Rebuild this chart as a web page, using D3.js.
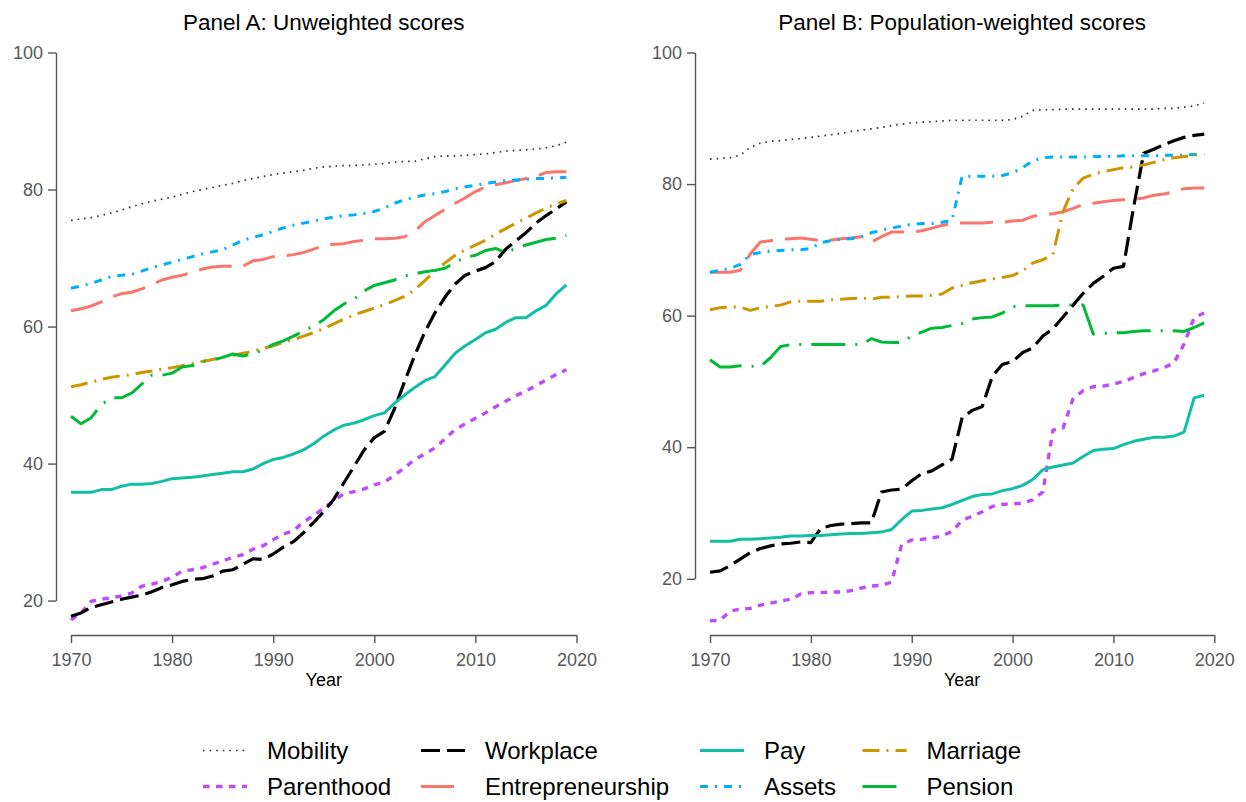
<!DOCTYPE html>
<html>
<head>
<meta charset="utf-8">
<script src="https://cdn.jsdelivr.net/npm/d3@7"></script>
<style>
  body { margin: 0; background: #fff; }
  svg { font-family: "Liberation Sans", Arial, Helvetica, sans-serif; }
</style>
</head>
<body>
<div id="chart"></div>
<script>

// x values, one per year
var years = [1970, 1971, 1972, 1973, 1974, 1975, 1976, 1977, 1978, 1979,
             1980, 1981, 1982, 1983, 1984, 1985, 1986, 1987, 1988, 1989,
             1990, 1991, 1992, 1993, 1994, 1995, 1996, 1997, 1998, 1999,
             2000, 2001, 2002, 2003, 2004, 2005, 2006, 2007, 2008, 2009,
             2010, 2011, 2012, 2013, 2014, 2015, 2016, 2017, 2018, 2019];

// Panel A - unweighted scores
var mobilityA = [75.5, 75.7, 75.9, 76.2, 76.6, 77.0, 77.5, 77.9, 78.3, 78.6,
                 78.9, 79.3, 79.7, 80.0, 80.3, 80.6, 80.9, 81.3, 81.6, 81.9,
                 82.2, 82.4, 82.6, 82.8, 83.1, 83.3, 83.4, 83.5, 83.5, 83.6,
                 83.7, 83.8, 84.0, 84.1, 84.1, 84.5, 84.8, 84.9, 84.9, 85.0,
                 85.1, 85.2, 85.4, 85.6, 85.7, 85.8, 85.9, 86.1, 86.4, 86.9];
var parenthoodA = [17.2, 18.2, 19.9, 20.2, 20.4, 20.7, 21.1, 22.1, 22.4, 22.8,
                   23.4, 24.3, 24.5, 24.8, 25.3, 25.8, 26.3, 26.7, 27.5, 28.0,
                   28.9, 29.7, 30.2, 31.5, 32.4, 33.5, 34.6, 35.6, 35.9, 36.3,
                   36.9, 37.3, 38.3, 39.4, 40.6, 41.4, 42.3, 43.6, 45.0, 45.8,
                   46.6, 47.4, 48.3, 49.1, 49.9, 50.6, 51.4, 52.2, 53.0, 53.7];
var workplaceA = [17.7, 18.2, 19.0, 19.4, 19.8, 20.2, 20.5, 20.8, 21.3, 21.9,
                  22.3, 22.8, 23.1, 23.2, 23.6, 24.3, 24.5, 25.3, 26.1, 26.0,
                  26.8, 27.8, 28.6, 29.9, 31.4, 33.0, 34.8, 37.2, 39.6, 42.0,
                  43.8, 44.7, 48.0, 52.0, 55.8, 59.2, 62.0, 64.3, 66.2, 67.5,
                  68.1, 68.6, 69.5, 71.3, 72.5, 73.7, 75.1, 76.2, 77.2, 78.2];
var entrepreneurshipA = [62.3, 62.6, 63.0, 63.6, 64.3, 64.8, 65.0, 65.5, 66.1, 66.8,
                         67.2, 67.5, 67.9, 68.4, 68.7, 68.8, 68.8, 68.8, 69.6, 69.8,
                         70.2, 70.3, 70.5, 70.8, 71.3, 71.8, 72.0, 72.1, 72.4, 72.6,
                         72.8, 72.8, 72.9, 73.1, 73.9, 75.3, 76.2, 77.1, 78.0, 78.8,
                         79.7, 80.4, 80.7, 81.0, 81.3, 81.6, 81.9, 82.5, 82.6, 82.6];
var payA = [35.8, 35.8, 35.8, 36.2, 36.2, 36.7, 37.0, 37.0, 37.1, 37.4,
            37.8, 37.9, 38.0, 38.2, 38.4, 38.6, 38.8, 38.8, 39.2, 40.0,
            40.6, 40.9, 41.4, 42.0, 42.9, 44.0, 44.9, 45.6, 45.9, 46.4,
            47.0, 47.4, 48.8, 50.0, 51.1, 52.1, 52.7, 54.4, 56.1, 57.2,
            58.1, 59.1, 59.6, 60.6, 61.3, 61.3, 62.3, 63.1, 64.8, 66.1];
var assetsA = [65.6, 65.9, 66.3, 66.8, 67.3, 67.5, 67.6, 68.1, 68.6, 69.0,
               69.4, 69.8, 70.2, 70.6, 70.9, 71.2, 71.9, 72.6, 73.0, 73.4,
               73.9, 74.4, 74.8, 75.1, 75.4, 75.7, 76.0, 76.2, 76.3, 76.5,
               76.8, 77.3, 78.0, 78.5, 78.9, 79.2, 79.4, 79.7, 80.1, 80.4,
               80.6, 80.9, 81.1, 81.3, 81.4, 81.5, 81.6, 81.6, 81.7, 81.8];
var marriageA = [51.2, 51.5, 51.9, 52.3, 52.6, 52.8, 53.0, 53.3, 53.5, 53.8,
                 54.0, 54.3, 54.6, 54.9, 55.2, 55.5, 55.8, 56.1, 56.4, 56.8,
                 57.2, 57.7, 58.1, 58.6, 59.1, 59.7, 60.4, 61.1, 61.7, 62.2,
                 62.7, 63.2, 63.8, 64.4, 65.4, 66.7, 68.1, 69.3, 70.4, 71.2,
                 71.9, 72.6, 73.5, 74.3, 75.1, 75.8, 76.6, 77.3, 77.9, 78.4];
var pensionA = [46.9, 45.8, 46.7, 48.6, 49.6, 49.6, 50.3, 51.6, 52.9, 52.9,
                53.2, 54.1, 54.3, 54.9, 55.1, 55.5, 56.0, 55.7, 56.0, 56.6,
                57.4, 57.9, 58.6, 59.3, 60.1, 61.0, 62.3, 63.3, 64.0, 65.2,
                66.0, 66.4, 66.8, 67.4, 67.7, 68.0, 68.2, 68.5, 69.4, 70.1,
                70.4, 71.1, 71.4, 70.8, 71.4, 71.9, 72.3, 72.7, 72.9, 73.3];

// Panel B - population-weighted scores
var mobilityB = [83.8, 83.9, 84.0, 84.4, 85.6, 86.2, 86.5, 86.6, 86.8, 86.9,
                 87.1, 87.3, 87.5, 87.7, 88.0, 88.2, 88.4, 88.6, 88.9, 89.1,
                 89.3, 89.4, 89.5, 89.6, 89.7, 89.7, 89.7, 89.7, 89.7, 89.7,
                 89.8, 90.3, 91.2, 91.3, 91.3, 91.4, 91.4, 91.4, 91.4, 91.4,
                 91.4, 91.4, 91.4, 91.4, 91.4, 91.5, 91.5, 91.7, 91.9, 92.3];
var parenthoodB = [13.6, 13.7, 15.1, 15.4, 15.5, 16.0, 16.3, 16.6, 16.9, 17.7,
                   17.9, 17.9, 18.0, 18.0, 18.2, 18.6, 18.9, 19.0, 19.5, 25.2,
                   25.9, 26.0, 26.2, 26.5, 27.2, 28.9, 29.5, 30.2, 31.0, 31.3,
                   31.4, 31.5, 32.0, 33.2, 42.6, 42.9, 47.4, 48.6, 49.2, 49.3,
                   49.6, 50.0, 50.6, 51.2, 51.6, 52.1, 52.8, 55.7, 59.7, 60.4];
var workplaceB = [21.0, 21.2, 22.0, 23.0, 24.0, 24.6, 25.0, 25.3, 25.4, 25.6,
                  25.5, 27.7, 28.1, 28.3, 28.4, 28.5, 28.5, 33.2, 33.5, 33.6,
                  34.9, 36.0, 36.4, 37.3, 38.2, 44.5, 45.6, 46.2, 50.8, 52.6,
                  53.0, 54.4, 55.1, 56.9, 58.0, 59.8, 61.6, 63.4, 64.9, 66.0,
                  67.2, 67.5, 76.5, 84.7, 85.3, 86.0, 86.6, 87.1, 87.4, 87.6];
var entrepreneurshipB = [66.6, 66.6, 66.6, 66.9, 69.4, 71.2, 71.4, 71.6, 71.7, 71.8,
                         71.6, 71.4, 71.5, 71.7, 71.8, 72.0, 71.2, 72.0, 72.7, 72.7,
                         72.7, 72.9, 73.3, 73.7, 74.0, 74.1, 74.1, 74.1, 74.2, 74.2,
                         74.4, 74.5, 75.1, 75.3, 75.5, 75.8, 76.3, 76.9, 77.1, 77.3,
                         77.5, 77.6, 77.7, 77.9, 78.3, 78.5, 78.8, 79.3, 79.4, 79.4];
var payB = [25.7, 25.7, 25.7, 26.0, 26.0, 26.1, 26.2, 26.3, 26.5, 26.5,
            26.6, 26.6, 26.7, 26.8, 26.9, 26.9, 27.0, 27.1, 27.5, 29.0,
            30.3, 30.4, 30.6, 30.8, 31.3, 31.9, 32.5, 32.8, 32.9, 33.4,
            33.7, 34.2, 35.1, 36.6, 37.0, 37.3, 37.6, 38.6, 39.5, 39.7,
            39.8, 40.4, 40.9, 41.2, 41.5, 41.5, 41.7, 42.3, 47.5, 47.9];
var assetsB = [66.6, 66.9, 67.2, 67.8, 69.3, 69.6, 69.8, 69.9, 70.0, 70.0,
               70.2, 71.1, 71.4, 71.6, 71.7, 72.0, 72.6, 73.0, 73.3, 73.6,
               73.9, 74.0, 74.0, 74.2, 74.5, 81.2, 81.2, 81.2, 81.2, 81.3,
               81.7, 82.5, 83.5, 84.0, 84.1, 84.1, 84.1, 84.1, 84.2, 84.2,
               84.2, 84.3, 84.3, 84.3, 84.3, 84.4, 84.4, 84.4, 84.5, 84.5];
var marriageB = [60.9, 61.2, 61.3, 61.3, 60.8, 61.2, 61.4, 61.6, 62.1, 62.2,
                 62.2, 62.2, 62.4, 62.5, 62.6, 62.7, 62.5, 62.8, 62.8, 62.9,
                 63.0, 63.0, 63.1, 63.3, 64.2, 64.6, 65.0, 65.3, 65.6, 65.8,
                 66.1, 66.8, 68.0, 68.5, 69.3, 75.8, 79.3, 80.9, 81.5, 81.9,
                 82.2, 82.5, 82.6, 82.9, 83.3, 83.7, 84.0, 84.2, 84.4, 84.5];
var pensionB = [53.3, 52.2, 52.2, 52.4, 52.3, 52.3, 53.6, 55.3, 55.6, 55.6,
                55.6, 55.6, 55.6, 55.6, 55.6, 55.6, 56.5, 56.0, 55.9, 55.9,
                56.9, 57.5, 58.1, 58.2, 58.5, 58.8, 59.5, 59.7, 59.8, 60.4,
                61.4, 61.5, 61.5, 61.5, 61.5, 61.6, 61.6, 61.6, 57.2, 57.3,
                57.4, 57.4, 57.6, 57.7, 57.7, 57.7, 57.7, 57.6, 58.2, 58.9];

// legend order (column by column, as in the legend)
var seriesNames = ['Mobility', 'Parenthood', 'Workplace', 'Entrepreneurship',
                   'Pay', 'Assets', 'Marriage', 'Pension'];
var xTicks = [1970, 1980, 1990, 2000, 2010, 2020];
var yTicks = [20, 40, 60, 80, 100];
var panelTitles = ['Panel A: Unweighted scores', 'Panel B: Population-weighted scores'];

var panelA = [mobilityA, parenthoodA, workplaceA, entrepreneurshipA, payA, assetsA, marriageA, pensionA];
var panelB = [mobilityB, parenthoodB, workplaceB, entrepreneurshipB, payB, assetsB, marriageB, pensionB];

// line look for each series
var lineStyle = {
  'Mobility':         { color: '#333333', width: 1.7, dash: '1.6,5' },
  'Parenthood':       { color: '#BE4BFB', width: 3.4, dash: '6.5,6.5' },
  'Workplace':        { color: '#000000', width: 3.2, dash: '19,7' },
  'Entrepreneurship': { color: '#F8766D', width: 3,   dash: '33,12' },
  'Pay':              { color: '#12BFA6', width: 3,   dash: null },
  'Assets':           { color: '#00B0F6', width: 3,   dash: '8,7,2,7' },
  'Marriage':         { color: '#CD9600', width: 3,   dash: '17,7,2,7' },
  'Pension':          { color: '#00BA38', width: 3,   dash: '34,10,2,10' }
};

var width = 1246,
    height = 802;

var svg = d3.select('#chart')
  .append('svg')
  .attr('width', width)
  .attr('height', height);

var drawPanel = (series, title, xRange, yRange, axisX, axisY) => {

  var x = d3.scaleLinear().domain([1970, 2020]).range(xRange),
      y = d3.scaleLinear().domain([20, 100]).range(yRange);

  var g = svg.append('g');

  // y axis
  var yAxis = g.append('g')
    .attr('transform', 'translate(' + axisX + ',0)')
    .call(d3.axisLeft(y).tickValues(yTicks).tickSize(8).tickSizeOuter(0).tickPadding(5));

  // x axis
  var xAxis = g.append('g')
    .attr('transform', 'translate(0,' + axisY + ')')
    .call(d3.axisBottom(x).tickValues(xTicks).tickFormat(d3.format('d'))
      .tickSize(8).tickSizeOuter(0).tickPadding(10.5));

  [yAxis, xAxis].forEach(function(a) {
    a.select('.domain').attr('stroke', '#555').attr('stroke-width', 1.4);
    a.selectAll('.tick line').attr('stroke', '#555').attr('stroke-width', 1.4);
    a.selectAll('.tick text')
      .attr('fill', '#595959')
      .style('font-size', '18px')
      .style('font-family', '"Liberation Sans", Arial, sans-serif');
  });

  var cx = (xRange[0] + xRange[1]) / 2;

  g.append('text')
    .attr('x', cx)
    .attr('y', 29.5)
    .attr('text-anchor', 'middle')
    .style('font-size', '22.5px')
    .attr('fill', '#000')
    .text(title);

  g.append('text')
    .attr('x', cx)
    .attr('y', 685.5)
    .attr('text-anchor', 'middle')
    .style('font-size', '18px')
    .attr('fill', '#000')
    .text('Year');

  var line = d3.line()
    .x(function(d, i) { return x(years[i]); })
    .y(function(d) { return y(d); });

  g.selectAll('path.series')
    .data(series)
    .enter()
    .append('path')
    .attr('class', 'series')
    .attr('d', function(d) { return line(d); })
    .attr('fill', 'none')
    .attr('stroke', function(d, i) { return lineStyle[seriesNames[i]].color; })
    .attr('stroke-width', function(d, i) { return lineStyle[seriesNames[i]].width; })
    .attr('stroke-dasharray', function(d, i) { return lineStyle[seriesNames[i]].dash; })
    .attr('stroke-linejoin', 'round')
    .attr('stroke-linecap', 'butt');
};

drawPanel(panelA, panelTitles[0], [71, 576.5], [600.6, 52.5], 56, 635);
drawPanel(panelB, panelTitles[1], [710, 1214.3], [578.8, 52.5], 695, 635);

// legend: 4 columns x 2 rows, filled column by column
var legendCols = [203, 421, 700, 862.5],
    legendRows = [750.5, 786.5],
    symbolLen = 44,
    textGap = 64;

var legend = svg.selectAll('.legend')
  .data(seriesNames)
  .enter()
  .append('g')
  .attr('class', 'legend')
  .attr('transform', function(d, i) {
    return 'translate(' + legendCols[Math.floor(i / 2)] + ',' + legendRows[i % 2] + ')';
  });

legend.append('line')
  .attr('x1', 0)
  .attr('x2', symbolLen)
  .attr('y1', 0)
  .attr('y2', 0)
  .attr('stroke', function(d) { return lineStyle[d].color; })
  .attr('stroke-width', function(d) { return lineStyle[d].width; })
  .attr('stroke-dasharray', function(d) { return lineStyle[d].dash; });

legend.append('text')
  .attr('x', textGap)
  .attr('y', 8.6)
  .style('font-size', '24px')
  .attr('fill', '#000')
  .text(function(d) { return d; });

</script>
</body>
</html>
